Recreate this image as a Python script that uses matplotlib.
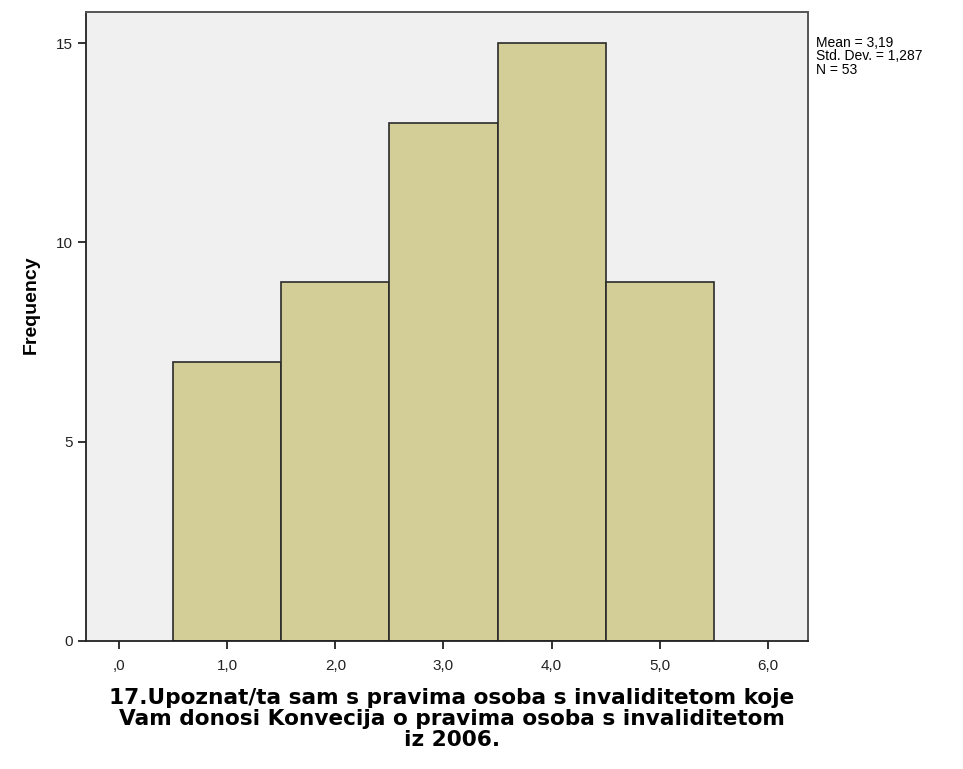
import matplotlib
matplotlib.use("Agg")
import matplotlib.pyplot as plt

# histogram bins (centres) and counts
bin_centers = [1.0, 2.0, 3.0, 4.0, 5.0]
counts = [7, 9, 13, 15, 9]
x_ticks = [0, 1, 2, 3, 4, 5, 6]
x_tick_labels = [",0", "1,0", "2,0", "3,0", "4,0", "5,0", "6,0"]
y_ticks = [0, 5, 10, 15]
stats_text = "Mean = 3,19\nStd. Dev. = 1,287\nN = 53"
x_label = ("17.Upoznat/ta sam s pravima osoba s invaliditetom koje\n"
           "Vam donosi Konvecija o pravima osoba s invaliditetom\n"
           "iz 2006.")

plt.rcParams['font.family'] = ['Liberation Sans', 'DejaVu Sans']

fig = plt.figure(figsize=(9.63, 7.69), dpi=100)
ax = fig.add_axes([86/963, 1 - 641/769, (808-86)/963, (641-12)/769])
ax.set_facecolor("#f0f0f0")

ax.bar(bin_centers, counts, width=1.0, color="#d3ce98",
       edgecolor="#2b2b2b", linewidth=1.2, zorder=2)

ax.set_xlim(-0.305, 6.37)
ax.set_ylim(0, 15.78)
ax.set_xticks(x_ticks)
ax.set_xticklabels(x_tick_labels)
ax.set_yticks(y_ticks)
ax.tick_params(axis='both', direction='out', length=6, width=1.3,
               labelsize=11, colors="#222222")
ax.tick_params(axis='x', pad=7)

for side in ['top', 'right']:
    ax.spines[side].set_color("#555555")
    ax.spines[side].set_linewidth(1.4)
for side in ['left', 'bottom']:
    ax.spines[side].set_color("#222222")
    ax.spines[side].set_linewidth(1.3)

ax.set_ylabel("Frequency", fontsize=14, fontweight='bold')
ax.yaxis.set_label_coords(-0.064, 0.534)

ax.set_xlabel(x_label, fontsize=15.6, fontweight='bold', linespacing=1.05,
              family='DejaVu Sans', va='top')
ax.xaxis.set_label_coords(0.507, -0.075)

fig.text(816/963, 1 - 36/769, stats_text, fontsize=10, va='top', ha='left',
         linespacing=0.95)

fig.savefig("out.png", dpi=100)
